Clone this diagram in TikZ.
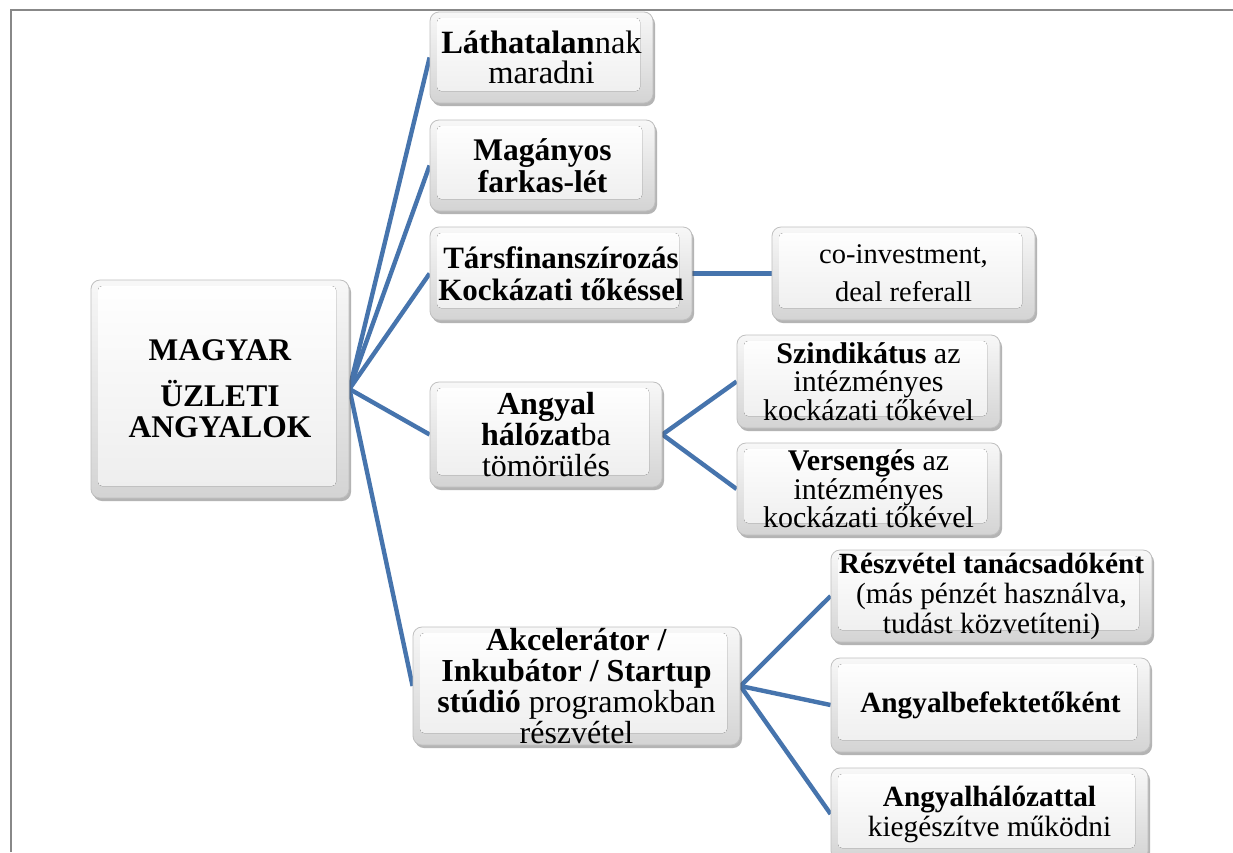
\documentclass[tikz,border=0pt]{standalone}
\usepackage{fontspec}
\setmainfont{Liberation Serif}
\usetikzlibrary{shadows}
\pgfdeclarelayer{bg}
\pgfdeclarelayer{paper}
\pgfsetlayers{paper,bg,main}
\definecolor{linkc}{RGB}{70,116,173}
\definecolor{framec}{RGB}{136,136,136}
\newcommand\fs[2]{\fontsize{#1}{#2}\selectfont}
\tikzset{
  box/.style={rounded corners=9pt, draw=gray!50, line width=0.8pt,
    top color=gray!6, bottom color=gray!34,
    drop shadow={shadow xshift=2pt, shadow yshift=-3pt, opacity=0.45, fill=gray!70!black},
    align=center, inner sep=0pt, text=black,
    path picture={\fill[rounded corners=4pt, top color=white, bottom color=gray!14]
      ([xshift=7pt,yshift=-6pt]path picture bounding box.north west) rectangle
      ([xshift=-13pt,yshift=12pt]path picture bounding box.south east);}},
  link/.style={draw=linkc, line width=4.4pt},
}
\begin{document}
\begin{tikzpicture}[x=1pt,y=-1pt]
\useasboundingbox (0,0) rectangle (1233,852);
\begin{pgfonlayer}{paper}
\fill[white] (0,0) rectangle (1233,852);
\draw[framec, line width=2pt] (11,852) -- (11,10) -- (1233,10);
\end{pgfonlayer}

% root
\node[box, minimum width=258pt, minimum height=218pt, font=\fs{31.5}{31}] (root) at (220,389)
  {\textbf{MAGYAR}\\[15pt]\textbf{ÜZLETI}\\\textbf{ANGYALOK}};

% level 1
\node[box, minimum width=223pt, minimum height=91pt, font=\fs{32.5}{30}] (a1) at (541.5,57.5)
  {\textbf{Láthatalan}nak\\maradni};
\node[box, minimum width=225pt, minimum height=91pt, font=\fs{31.5}{32}] (a2) at (542.5,165.5)
  {\textbf{Magányos}\\\textbf{farkas-lét}};
\node[box, minimum width=262pt, minimum height=93pt, font=\fs{31}{32}] (a3) at (561,273.5)
  {\textbf{Társfinanszírozás}\\\textbf{Kockázati tőkéssel}};
\node[box, minimum width=232pt, minimum height=105pt, font=\fs{32}{31}] (a4) at (546,434.5)
  {\textbf{Angyal}\\\textbf{hálózat}ba\\tömörülés};
\node[box, minimum width=327pt, minimum height=118pt, font=\fs{32}{31}] (a5) at (576.5,686)
  {\textbf{Akcelerátor /}\\\textbf{Inkubátor / Startup}\\\textbf{stúdió} programokban\\részvétel};

% level 2
\node[box, minimum width=263pt, minimum height=93pt, font=\fs{28.5}{38}] (b1) at (903.5,273.5)
  {co-investment,\\deal referall};
\node[box, minimum width=263pt, minimum height=93pt, font=\fs{30}{28.5}] (b2) at (868.5,381.5)
  {\textbf{Szindikátus} az\\intézményes\\kockázati tőkével};
\node[box, minimum width=263pt, minimum height=92pt, font=\fs{30}{28.5}] (b3) at (868.5,489)
  {\textbf{Versengés} az\\intézményes\\kockázati tőkével};
\node[box, minimum width=321pt, minimum height=92pt, font=\fs{29.3}{30}] (c1) at (991.5,596)
  {\textbf{Részvétel tanácsadóként}\\(más pénzét használva,\\tudást közvetíteni)};
\node[box, minimum width=319pt, minimum height=94pt, font=\fs{29.3}{30}] (c2) at (990.5,705)
  {\textbf{Angyalbefektetőként}};
\node[box, minimum width=317pt, minimum height=92pt, font=\fs{29.3}{30}] (c3) at (989.5,814)
  {\textbf{Angyalhálózattal}\\kiegészítve működni};

\begin{pgfonlayer}{bg}
\foreach \t in {a1,a2,a3,a4,a5} \draw[link] (root.east) -- (\t.west);
\draw[link] (a3.east) -- (b1.west);
\draw[link] (a4.east) -- (b2.west);
\draw[link] (a4.east) -- (b3.west);
\draw[link] (a5.east) -- (c1.west);
\draw[link] (a5.east) -- (c2.west);
\draw[link] (a5.east) -- (c3.west);
\end{pgfonlayer}
\end{tikzpicture}
\end{document}
